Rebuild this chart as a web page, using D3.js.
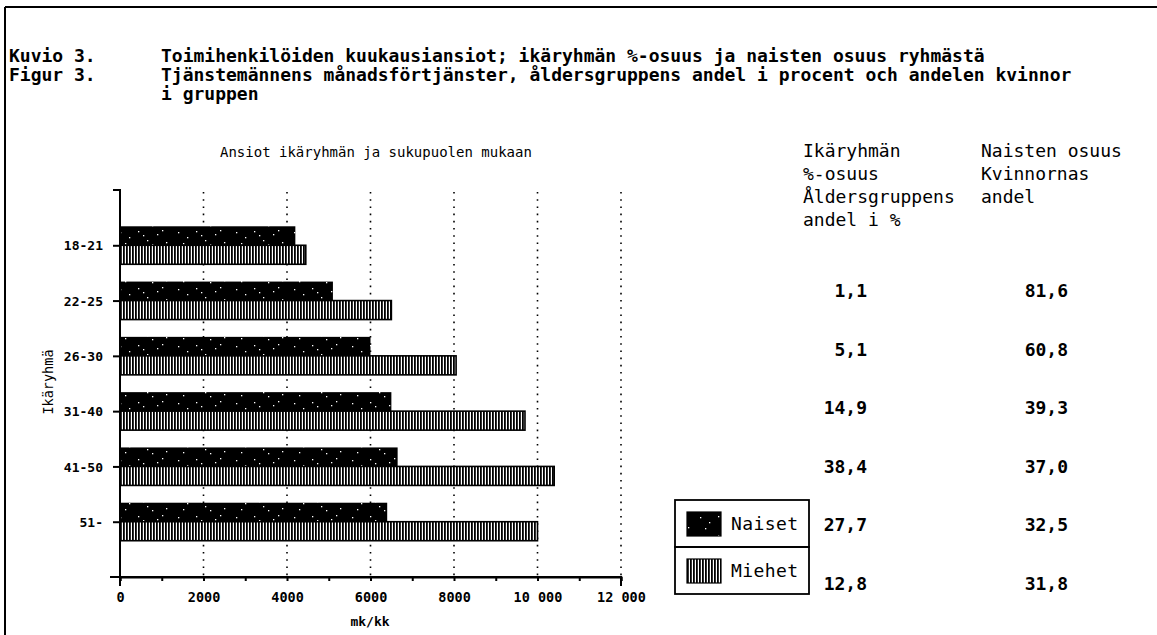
<!DOCTYPE html>
<html>
<head>
<meta charset="utf-8">
<script src="https://cdn.jsdelivr.net/npm/d3@7/dist/d3.min.js"></script>
<style>
  body { margin: 0; background: #fff; }
  text { font-family: "DejaVu Sans Mono", "Liberation Mono", monospace; fill: #000; }
  .axis path, .axis line { stroke: #000; stroke-width: 2; }
</style>
</head>
<body>
<div id="chart"></div>
<script>
// data
const ageGroups = ["18-21", "22-25", "26-30", "31-40", "41-50", "51-"];
const naiset = [4200, 5100, 6000, 6500, 6650, 6400];
const miehet = [4450, 6500, 8050, 9700, 10400, 10000];
const ageShare = ["1,1", "5,1", "14,9", "38,4", "27,7", "12,8"];
const womenShare = ["81,6", "60,8", "39,3", "37,0", "32,5", "31,8"];
const xTickValues = [0, 2000, 4000, 6000, 8000, 10000, 12000];
const xTickLabels = ["0", "2000", "4000", "6000", "8000", "10 000", "12 000"];
const seriesNames = ["Naiset", "Miehet"];
const titleLines = [
  ["Kuvio 3.", "Toimihenkilöiden kuukausiansiot; ikäryhmän %-osuus ja naisten osuus ryhmästä"],
  ["Figur 3.", "Tjänstemännens månadsförtjänster, åldersgruppens andel i procent och andelen kvinnor"],
  ["", "i gruppen"]
];
const col1Header = ["Ikäryhmän", "%-osuus", "Åldersgruppens", "andel i %"];
const col2Header = ["Naisten osuus", "Kvinnornas", "andel"];

const W = 1157, H = 635;
const svg = d3.select("#chart").append("svg")
    .attr("width", W)
    .attr("height", H);

// textures: speckled black for Naiset, vertical hatch for Miehet
const defs = svg.append("defs");
const pN = defs.append("pattern")
    .attr("id", "texN").attr("patternUnits", "userSpaceOnUse")
    .attr("width", 58).attr("height", 19);
pN.append("rect").attr("width", 58).attr("height", 19).attr("fill", "#000");
[[4,4],[13,9],[22,3],[31,12],[41,6],[50,14],[9,15],[27,7],[46,2],[36,16]]
  .forEach(p => pN.append("rect").attr("x", p[0]).attr("y", p[1])
      .attr("width", 1.3).attr("height", 1.3).attr("fill", "#fff"));

const pM = defs.append("pattern")
    .attr("id", "texM").attr("patternUnits", "userSpaceOnUse")
    .attr("width", 3).attr("height", 19);
pM.append("rect").attr("width", 3).attr("height", 19).attr("fill", "#fff");
pM.append("rect").attr("x", 0).attr("width", 1.8).attr("height", 19).attr("fill", "#000");

// frame
svg.append("line").attr("x1", 5).attr("x2", 5).attr("y1", 7).attr("y2", H)
    .attr("stroke", "#000").attr("stroke-width", 2);
svg.append("line").attr("x1", 5).attr("x2", W).attr("y1", 7).attr("y2", 7)
    .attr("stroke", "#000").attr("stroke-width", 2);

// title
titleLines.forEach((l, i) => {
  svg.append("text").attr("x", 9).attr("y", 62 + i * 19)
      .style("font-size", "18px").style("font-weight", "bold").text(l[0]);
  svg.append("text").attr("x", 161).attr("y", 62 + i * 19)
      .style("font-size", "18px").style("font-weight", "bold").text(l[1]);
});

const x = d3.scaleLinear().domain([0, 12000]).range([120, 621]);
const y = d3.scalePoint().domain(ageGroups).range([190, 577]).padding(1);
const barH = 19;

svg.append("text")
    .attr("x", 220).attr("y", 157)
    .style("font-size", "14px")
    .text("Ansiot ikäryhmän ja sukupuolen mukaan");

// dotted grid
svg.append("g").selectAll("line")
  .data(xTickValues.slice(1))
  .join("line")
    .attr("x1", d => x(d)).attr("x2", d => x(d))
    .attr("y1", 192).attr("y2", 577)
    .attr("stroke", "#000").attr("stroke-width", 1.6)
    .attr("stroke-dasharray", "1.6,5.6");

// bars
const bars = svg.append("g");
bars.selectAll(".n")
  .data(ageGroups)
  .join("rect")
    .attr("class", "n")
    .attr("x", x(0))
    .attr("y", d => y(d) - barH)
    .attr("width", (d, i) => x(naiset[i]) - x(0))
    .attr("height", barH)
    .attr("fill", "url(#texN)");
bars.selectAll(".m")
  .data(ageGroups)
  .join("rect")
    .attr("class", "m")
    .attr("x", x(0))
    .attr("y", d => y(d))
    .attr("width", (d, i) => x(miehet[i]) - x(0))
    .attr("height", barH)
    .attr("fill", "url(#texM)")
    .attr("stroke", "#000").attr("stroke-width", 1.6);

// axes
svg.append("g")
    .attr("class", "axis")
    .attr("transform", "translate(0,577)")
    .call(d3.axisBottom(x).tickValues(d3.range(1000, 12000, 2000)).tickSize(4).tickFormat(""));

const xAxis = svg.append("g")
    .attr("class", "axis")
    .attr("transform", "translate(0,577)")
    .call(d3.axisBottom(x)
      .tickValues(xTickValues)
      .tickFormat((d, i) => xTickLabels[i])
      .tickSize(4).tickSizeOuter(9));
xAxis.selectAll("text")
    .attr("y", 25).attr("dy", null)
    .style("font-size", "13.5px").style("font-weight", "bold");
xAxis.select(".domain").attr("d", "M110,0H621V9M120,0V9");

const yAxis = svg.append("g")
    .attr("class", "axis")
    .attr("transform", "translate(120,0)")
    .call(d3.axisLeft(y).tickSize(7).tickPadding(10));
yAxis.selectAll("text")
    .attr("dy", "0.36em")
    .style("font-size", "13px").style("font-weight", "bold");
yAxis.select(".domain").attr("d", "M-7,190H0V577");

svg.append("text")
    .attr("x", 370).attr("y", 626)
    .attr("text-anchor", "middle")
    .style("font-size", "13px").style("font-weight", "bold")
    .text("mk/kk");

svg.append("text")
    .attr("transform", "translate(53,382) rotate(-90)")
    .attr("text-anchor", "middle")
    .style("font-size", "13.5px")
    .text("Ikäryhmä");

// legend
const legend = svg.append("g");
seriesNames.forEach((s, i) => {
  const top = 500 + i * 47;
  legend.append("rect").attr("x", 675).attr("y", top).attr("width", 134).attr("height", 47)
      .attr("fill", "none").attr("stroke", "#000").attr("stroke-width", 1.8);
  legend.append("rect").attr("x", 687).attr("y", top + 12).attr("width", 34).attr("height", 24)
      .attr("fill", i === 0 ? "url(#texN)" : "url(#texM)")
      .attr("stroke", "#000").attr("stroke-width", 1.2);
  legend.append("text").attr("x", 731).attr("y", top + 30)
      .style("font-size", "18px").style("letter-spacing", "0.4px").text(s);
});

// side table
col1Header.forEach((t, i) => {
  svg.append("text").attr("x", 803).attr("y", 157 + i * 23)
      .style("font-size", "18px").text(t);
});
col2Header.forEach((t, i) => {
  svg.append("text").attr("x", 981).attr("y", 157 + i * 23)
      .style("font-size", "18px").text(t);
});

const rowY = d3.scalePoint().domain(ageGroups).range([297, 590]);
svg.append("g").selectAll("text")
  .data(ageGroups)
  .join("text")
    .attr("x", 867).attr("y", d => rowY(d))
    .attr("text-anchor", "end")
    .style("font-size", "18px").style("font-weight", "bold")
    .text((d, i) => ageShare[i]);
svg.append("g").selectAll("text")
  .data(ageGroups)
  .join("text")
    .attr("x", 1068).attr("y", d => rowY(d))
    .attr("text-anchor", "end")
    .style("font-size", "18px").style("font-weight", "bold")
    .text((d, i) => womenShare[i]);
</script>
</body>
</html>
